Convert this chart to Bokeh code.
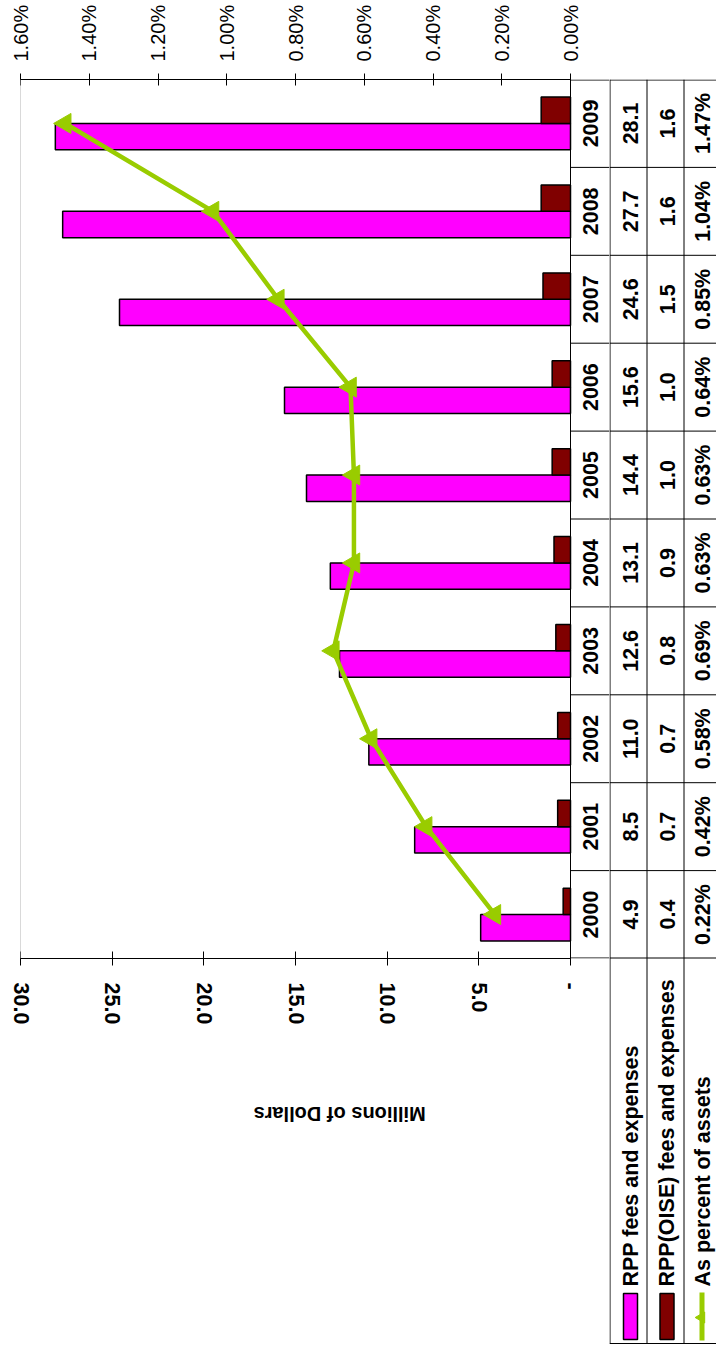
import math
from bokeh.plotting import figure
from bokeh.models import (Range1d, LinearAxis, FixedTicker, PrintfTickFormatter, Span)
from bokeh.layouts import row
from bokeh.embed import file_html
from bokeh.resources import INLINE
from bokeh.core.properties import value

# ---------------- data ----------------
years = ["2000", "2001", "2002", "2003", "2004", "2005", "2006", "2007", "2008", "2009"]
rpp_fees = [4.9, 8.5, 11.0, 12.6, 13.1, 14.4, 15.6, 24.6, 27.7, 28.1]
oise_fees = [0.4, 0.7, 0.7, 0.8, 0.9, 1.0, 1.0, 1.5, 1.6, 1.6]
pct_assets = [0.22, 0.42, 0.58, 0.69, 0.63, 0.63, 0.64, 0.85, 1.04, 1.47]
money_ticks = [0, 5, 10, 15, 20, 25, 30]
pct_ticks = [0.0, 0.2, 0.4, 0.6, 0.8, 1.0, 1.2, 1.4, 1.6]
series_names = ["RPP fees and expenses", "RPP(OISE) fees and expenses", "As percent of assets"]
axis_title = "Millions of Dollars"

# ---------------- layout constants (pixels) ----------------
W, H = 716, 1351
LEFT, ZERO_X, SPLIT = 20, 570, 609
TOP, BOTTOM, LEG_BOTTOM = 79, 958, 1343
TITLE_RIGHT_PX = 253
COL_LINES = [609.5, 646.5, 683.5]
COL_TEXT = [630, 666.5, 702]
MONEY_MAX, PCT_MAX = 30, 1.6

FONT_NAME = "Liberation Sans"
FONT = value(FONT_NAME)
MAGENTA, DARKRED, GREEN = "#FF00FF", "#800000", "#99CC00"

n = len(years)
idx = list(range(n))
ppu = (ZERO_X - LEFT) / MONEY_MAX
money_end = MONEY_MAX - (SPLIT - LEFT) / ppu
pct_end = PCT_MAX * money_end / MONEY_MAX
ppc = (BOTTOM - TOP) / n


def y_px(px):
    return (n - 0.5) - (px - TOP) / ppc


# ---------------- main figure ----------------
pA = figure(width=SPLIT, height=H, x_range=Range1d(MONEY_MAX, money_end),
            y_range=Range1d(-0.5, n - 0.5), output_backend="svg", toolbar_location=None,
            x_axis_location=None, y_axis_location=None,
            min_border_left=LEFT, min_border_right=0, min_border_top=TOP,
            min_border_bottom=H - BOTTOM, outline_line_color=None,
            background_fill_color="white", border_fill_color="white")
pA.grid.visible = False
try:
    pA.frame_align = False
except Exception:
    pass

bottom_axis = LinearAxis(ticker=FixedTicker(ticks=money_ticks),
                         formatter=PrintfTickFormatter(format="%.1f"),
                         bounds=(0, MONEY_MAX),
                         major_label_overrides={0: "-\u00a0\u00a0\u00a0\u00a0"},
                         major_label_orientation="vertical",
                         major_label_standoff=17,
                         major_label_text_font=FONT_NAME, major_label_text_font_style="bold",
                         major_label_text_font_size="21.5px", major_label_text_color="black",
                         axis_line_color="black", axis_line_width=1,
                         major_tick_in=7, major_tick_out=7, major_tick_line_color="black",
                         minor_tick_line_color=None)
pA.add_layout(bottom_axis, "below")

# axis title, drawn as the single label of a bare second axis so it can be turned upside down
title_tick = MONEY_MAX - (TITLE_RIGHT_PX - LEFT) / ppu
title_axis = LinearAxis(ticker=FixedTicker(ticks=[title_tick]),
                        major_label_overrides={title_tick: axis_title},
                        major_label_orientation=math.pi,
                        major_label_standoff=86,
                        major_label_text_font=FONT_NAME, major_label_text_font_style="bold",
                        major_label_text_font_size="20px", major_label_text_color="black",
                        axis_line_color=None, major_tick_line_color=None,
                        major_tick_in=0, major_tick_out=0, minor_tick_line_color=None)
pA.add_layout(title_axis, "below")

pA.extra_x_ranges = {"pct": Range1d(PCT_MAX, pct_end)}
top_axis = LinearAxis(x_range_name="pct", ticker=FixedTicker(ticks=pct_ticks),
                      formatter=PrintfTickFormatter(format="%.2f%%"),
                      bounds=(0, PCT_MAX),
                      major_label_orientation="vertical",
                      major_label_standoff=12,
                      major_label_text_font=FONT_NAME, major_label_text_font_style="normal",
                      major_label_text_font_size="20px", major_label_text_color="black",
                      axis_line_color="black", axis_line_width=1,
                      major_tick_in=6, major_tick_out=6, major_tick_line_color="black",
                      minor_tick_line_color=None)
pA.add_layout(top_axis, "above")

pA.add_layout(Span(location=MONEY_MAX, dimension="height", line_color="#b4b4b4", line_width=1))

pA.hbar(y=[i - 0.15 for i in idx], height=0.3, left=0, right=rpp_fees,
        fill_color=MAGENTA, line_color="black", line_width=1.5)
pA.hbar(y=[i + 0.15 for i in idx], height=0.3, left=0, right=oise_fees,
        fill_color=DARKRED, line_color="black", line_width=1.5)

pA.line(x=pct_assets, y=idx, x_range_name="pct", line_color=GREEN, line_width=4.5)
pA.scatter(x=pct_assets, y=idx, x_range_name="pct", marker="triangle", angle=math.pi / 2,
           size=20, fill_color=GREEN, line_color=GREEN)

# table part inside main figure (year column)
pA.add_layout(Span(location=0, dimension="height", line_color="black", line_width=1))
edge = 0.5 / ppc
bounds_y = [-0.5 + k for k in range(n + 1)]
bounds_y[0] += edge
bounds_y[-1] -= edge
pA.segment(x0=0, x1=money_end, y0=bounds_y, y1=bounds_y, line_color="black", line_width=1)
year_x = -(COL_LINES[0] - 0.5 - ZERO_X) / 2 / ppu
pA.text(x=year_x, y=idx, text=years, angle=math.pi / 2, text_align="center",
        text_baseline="middle", text_font=FONT, text_font_style="bold",
        text_font_size="21.5px", text_color="black")

# ---------------- table / legend figure ----------------
pB = figure(width=W - SPLIT, height=H, x_range=Range1d(SPLIT, W),
            y_range=Range1d(y_px(H), n - 0.5), output_backend="svg", toolbar_location=None,
            x_axis_location=None, y_axis_location=None,
            min_border_left=0, min_border_right=0, min_border_top=TOP, min_border_bottom=0,
            outline_line_color=None, background_fill_color="white", border_fill_color="white")
pB.grid.visible = False
try:
    pB.frame_align = False
except Exception:
    pass

leg_bot = y_px(LEG_BOTTOM)
pB.segment(x0=COL_LINES, x1=COL_LINES, y0=n - 0.5, y1=leg_bot, line_color="black", line_width=1)
pB.segment(x0=SPLIT, x1=W, y0=bounds_y + [leg_bot], y1=bounds_y + [leg_bot],
           line_color="black", line_width=1)

for col_x, labels in zip(COL_TEXT, [[f"{v:.1f}" for v in rpp_fees],
                                    [f"{v:.1f}" for v in oise_fees],
                                    [f"{v:.2f}%" for v in pct_assets]]):
    pB.text(x=col_x, y=idx, text=labels, angle=math.pi / 2, text_align="center",
            text_baseline="middle", text_font=FONT, text_font_style="bold",
            text_font_size="21.5px", text_color="black")

# legend keys
pB.quad(left=[COL_TEXT[0] - 7, COL_TEXT[1] - 7], right=[COL_TEXT[0] + 7, COL_TEXT[1] + 7],
        top=y_px(1293), bottom=y_px(1339), fill_color=[MAGENTA, DARKRED],
        line_color="black", line_width=1.5)
pB.segment(x0=COL_TEXT[2] - 0.5, x1=COL_TEXT[2] - 0.5, y0=y_px(1292), y1=y_px(1340),
           line_color=GREEN, line_width=5)
pB.scatter(x=[COL_TEXT[2] - 1], y=[y_px(1317)], marker="triangle", angle=math.pi / 2, size=11,
           fill_color=GREEN, line_color=GREEN)
pB.text(x=COL_TEXT, y=y_px(1286), text=series_names, angle=math.pi / 2, text_align="left",
        text_baseline="middle", text_font=FONT, text_font_style="bold",
        text_font_size="21.5px", text_color="black")

layout = row(pA, pB, spacing=0)
open("out.html", "w").write(file_html(layout, INLINE))
